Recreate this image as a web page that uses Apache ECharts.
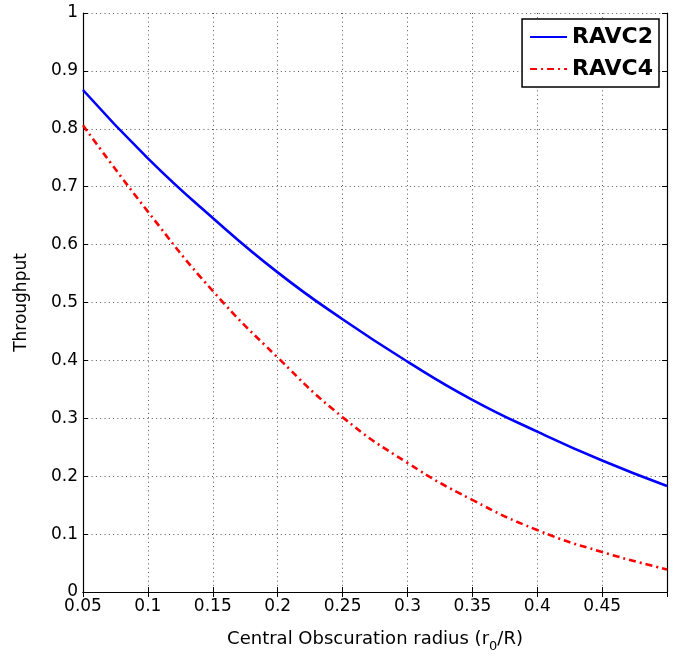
<!DOCTYPE html>
<html>
<head>
<meta charset="utf-8">
<script src="https://cdn.jsdelivr.net/npm/echarts@6/dist/echarts.min.js"></script>
<style>
  html, body { margin: 0; padding: 0; background: #ffffff; }
  #chart { width: 678px; height: 658px; }
</style>
</head>
<body>
<div id="chart"></div>
<script>
// Central obscuration radius r0/R
const radius = [0.05, 0.10, 0.15, 0.20, 0.25, 0.30, 0.35, 0.40, 0.45, 0.50];
// Throughput of each coronagraph
const ravc2 = [0.867, 0.749, 0.646, 0.552, 0.471, 0.398, 0.332, 0.277, 0.227, 0.183];
const ravc4 = [0.806, 0.657, 0.520, 0.405, 0.302, 0.223, 0.159, 0.107, 0.069, 0.039];
// Axis tick labels
const xTickLabels = ['0.05', '0.1', '0.15', '0.2', '0.25', '0.3', '0.35', '0.4', '0.45'];
const yTickLabels = ['0', '0.1', '0.2', '0.3', '0.4', '0.5', '0.6', '0.7', '0.8', '0.9', '1'];

const FONT = 'DejaVu Sans';
const pairs = (xs, ys) => xs.map((x, i) => [x, ys[i]]);
const xLabel = v => {
  const k = Math.round((v - 0.05) / 0.05);
  return xTickLabels[k] !== undefined ? xTickLabels[k] : '';
};
const yLabel = v => {
  const k = Math.round(v / 0.1);
  return yTickLabels[k] !== undefined ? yTickLabels[k] : '';
};

const gridDots = { show: true, lineStyle: { color: '#555', width: 1, type: [1, 3.3] } };
const frame = { show: true, lineStyle: { color: '#000', width: 1.2 } };
const inTicks = { show: true, inside: true, length: 5, lineStyle: { color: '#000', width: 1 } };

const chart = echarts.init(document.getElementById('chart'), null, { renderer: 'canvas' });
chart.setOption({
  animation: false,
  backgroundColor: '#ffffff',
  textStyle: { fontFamily: FONT, color: '#000' },
  grid: { left: 83, right: 11, top: 13, bottom: 61, containLabel: false },
  legend: {
    orient: 'vertical',
    right: 19,
    top: 19,
    padding: [7, 6, 7, 7],
    itemWidth: 37,
    itemHeight: 24,
    itemGap: 10,
    backgroundColor: '#ffffff',
    borderColor: '#000',
    borderWidth: 1.5,
    borderRadius: 0,
    itemStyle: { opacity: 0 },
    textStyle: { fontFamily: FONT, fontSize: 22, fontWeight: 'bold', color: '#000' },
    data: ['RAVC2', 'RAVC4']
  },
  xAxis: [
    {
      type: 'value', min: 0.05, max: 0.5, interval: 0.05,
      name: 'Central Obscuration radius (r{sub|0}/R)',
      nameLocation: 'middle', nameGap: 34,
      nameTextStyle: {
        fontFamily: FONT, fontSize: 18, color: '#000',
        rich: { sub: { fontFamily: FONT, fontSize: 13, color: '#000', padding: [14, 0, 0, 0] } }
      },
      axisLine: frame, axisTick: inTicks, splitLine: gridDots,
      axisLabel: { fontFamily: FONT, fontSize: 17, color: '#000', margin: 6, showMaxLabel: false, formatter: xLabel }
    },
    {
      type: 'value', min: 0.05, max: 0.5, interval: 0.05, position: 'top',
      axisLine: frame, axisTick: inTicks, splitLine: { show: false }, axisLabel: { show: false }
    }
  ],
  yAxis: [
    {
      type: 'value', min: 0, max: 1, interval: 0.1,
      name: 'Throughput', nameLocation: 'middle', nameGap: 53,
      nameTextStyle: { fontFamily: FONT, fontSize: 17, color: '#000' },
      axisLine: frame, axisTick: inTicks, splitLine: gridDots,
      axisLabel: { fontFamily: FONT, fontSize: 17, color: '#000', margin: 5, formatter: yLabel }
    },
    {
      type: 'value', min: 0, max: 1, interval: 0.1, position: 'right',
      axisLine: frame, axisTick: inTicks, splitLine: { show: false }, axisLabel: { show: false }
    }
  ],
  series: [
    {
      name: 'RAVC2', type: 'line', smooth: true, symbol: 'none',
      xAxisIndex: 0, yAxisIndex: 0,
      lineStyle: { color: '#0000ff', width: 2.6, type: 'solid' },
      itemStyle: { color: '#0000ff' },
      data: pairs(radius, ravc2)
    },
    {
      name: 'RAVC4', type: 'line', smooth: true, symbol: 'none',
      xAxisIndex: 0, yAxisIndex: 0,
      lineStyle: { color: '#ff0000', width: 2.6, type: [7, 4, 2, 4] },
      itemStyle: { color: '#ff0000' },
      data: pairs(radius, ravc4)
    }
  ]
});
</script>
</body>
</html>
